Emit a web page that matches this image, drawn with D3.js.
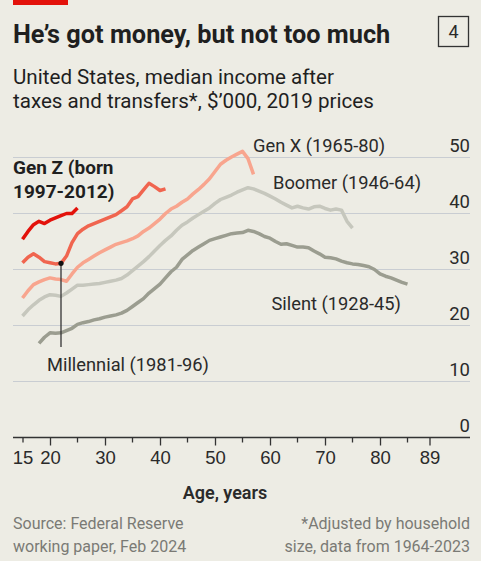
<!DOCTYPE html>
<html>
<head>
<meta charset="utf-8">
<script src="https://cdn.jsdelivr.net/npm/d3@7"></script>
<style>
  body { margin: 0; background: #edece4; }
  svg { display: block; font-family: Roboto, "Noto Sans", sans-serif; }
</style>
</head>
<body>
<script>
var width = 481;
var height = 561;

// median income after taxes and transfers, $'000 (2019 prices)
var genZAges = [15, 16, 17, 18, 19, 20, 21, 22, 23, 24, 25];
var genZValues = [35.4, 36.8, 38.0, 38.6, 38.2, 38.8, 39.2, 39.6, 40.0, 40.0, 41.0];

var millennialAges = d3.range(15, 42);
var millennialValues = [31.2, 32.2, 32.8, 32.2, 31.4, 31.2, 31.0, 31.1, 32.4, 34.8,
  36.4, 37.2, 37.8, 38.2, 38.6, 39.0, 39.4, 39.8, 40.5, 41.2,
  42.6, 43.0, 44.2, 45.4, 44.8, 44.1, 44.4];

var genXAges = d3.range(15, 58);
var genXValues = [24.9, 26.2, 27.3, 27.8, 28.2, 28.5, 28.3, 28.2, 27.9, 29.2,
  30.4, 31.2, 31.8, 32.4, 33.0, 33.5, 34.0, 34.5, 34.8, 35.1,
  35.5, 36.0, 36.8, 37.4, 38.2, 39.0, 40.0, 40.8, 41.3, 42.0,
  42.6, 43.5, 44.3, 45.2, 46.2, 47.5, 48.8, 49.5, 50.1, 50.6,
  51.1, 49.8, 47.0];

var boomerAges = d3.range(15, 76);
var boomerValues = [21.7, 22.8, 23.7, 24.5, 25.1, 25.5, 25.4, 25.2, 25.8, 26.5,
  27.2, 27.2, 27.3, 27.4, 27.5, 27.7, 27.9, 28.1, 28.4, 29.0,
  29.8, 30.6, 31.4, 32.3, 33.3, 34.3, 35.2, 36.0, 37.0, 37.9,
  38.5, 39.2, 39.8, 40.4, 41.0, 41.8, 42.5, 42.9, 43.3, 43.8,
  44.2, 44.6, 44.4, 44.0, 43.6, 43.1, 42.6, 42.0, 41.5, 41.0,
  41.3, 41.0, 40.8, 41.2, 41.3, 40.9, 40.6, 40.8, 40.6, 38.6,
  37.4];

var silentAges = d3.range(18, 86);
var silentValues = [16.8, 17.9, 18.7, 18.6, 18.7, 19.1, 19.5, 20.2, 20.5, 20.7,
  21.0, 21.2, 21.5, 21.7, 21.9, 22.2, 22.7, 23.4, 24.1, 24.8,
  25.8, 26.6, 27.4, 28.5, 29.6, 30.4, 31.8, 32.6, 33.4, 34.0,
  34.6, 35.2, 35.5, 35.8, 36.1, 36.4, 36.5, 36.6, 37.0, 36.8,
  36.4, 35.9, 35.6, 35.0, 34.5, 34.6, 34.3, 34.0, 34.0, 33.9,
  33.3, 32.8, 32.2, 32.1, 31.9, 31.5, 31.2, 31.0, 30.9, 30.7,
  30.5, 30.0, 29.2, 28.8, 28.5, 28.1, 27.7, 27.4];

var xTicks = [15, 20, 30, 40, 50, 60, 70, 80, 89];
var xMinorTicks = [25, 35, 45, 55, 65, 75, 85];
var yTicks = [0, 10, 20, 30, 40, 50];
var markerAge = 22;

var red = '#e3120b';
var ink = '#2a2a2a';

var svg = d3.select('body').append('svg')
  .attr('width', width)
  .attr('height', height);

var x = d3.scaleLinear().domain([20, 89]).range([50, 429.5]);
var y = d3.scaleLinear().domain([0, 50]).range([437.5, 157.5]);
var left = 13;
var right = 470;

// header
svg.append('rect').attr('x', 13).attr('y', 0).attr('width', 55).attr('height', 5).attr('fill', red);

svg.append('text')
  .attr('x', 13).attr('y', 43)
  .attr('font-size', 25.3).attr('font-weight', 700).attr('fill', '#1f1f1f')
  .text('He\u2019s got money, but not too much');

svg.append('rect')
  .attr('x', 438.5).attr('y', 16.5).attr('width', 30).attr('height', 30)
  .attr('fill', 'none').attr('stroke', '#333').attr('stroke-width', 1.3);
svg.append('text')
  .attr('x', 453.5).attr('y', 38).attr('text-anchor', 'middle')
  .attr('font-size', 18).attr('fill', ink).text('4');

var sub = svg.append('text').attr('font-size', 20.6).attr('fill', '#1f1f1f');
sub.append('tspan').attr('x', 13).attr('y', 83.5).text('United States, median income after');
sub.append('tspan').attr('x', 13).attr('y', 107.5).text('taxes and transfers*, $\u2019000, 2019 prices');

// grid
svg.append('g').selectAll('line')
  .data(yTicks.filter(function (d) { return d > 0; }))
  .enter().append('line')
  .attr('x1', left).attr('x2', right)
  .attr('y1', function (d) { return y(d); })
  .attr('y2', function (d) { return y(d); })
  .attr('stroke', '#c9cdd2').attr('stroke-width', 1);

svg.append('g').selectAll('text')
  .data(yTicks)
  .enter().append('text')
  .attr('x', right).attr('y', function (d) { return y(d) - 6; })
  .attr('text-anchor', 'end')
  .attr('font-size', 18.5).attr('fill', ink)
  .text(function (d) { return d; });

// x axis
var xAxis = d3.axisBottom(x).tickValues(xTicks).tickSize(8).tickSizeOuter(0).tickPadding(5);
var gx = svg.append('g').attr('transform', 'translate(0,' + y(0) + ')').call(xAxis);
gx.select('.domain').remove();
gx.selectAll('line').attr('stroke', '#333').attr('stroke-width', 1.3);
gx.selectAll('text').attr('font-size', 18.5).attr('fill', ink).attr('font-family', null);
gx.select('.tick line').attr('y2', 5); // the 15 tick is short
gx.selectAll('.minor')
  .data(xMinorTicks)
  .enter().append('line')
  .attr('class', 'minor')
  .attr('x1', function (d) { return x(d); }).attr('x2', function (d) { return x(d); })
  .attr('y1', 0).attr('y2', 5)
  .attr('stroke', '#333').attr('stroke-width', 1.3);
svg.append('line')
  .attr('x1', left).attr('x2', right)
  .attr('y1', y(0)).attr('y2', y(0))
  .attr('stroke', '#333').attr('stroke-width', 1.5);

svg.append('text')
  .attr('x', 225).attr('y', 499).attr('text-anchor', 'middle')
  .attr('font-size', 18).attr('font-weight', 600).attr('fill', ink)
  .text('Age, years');

// lines
var line = d3.line()
  .x(function (d) { return x(d[0]); })
  .y(function (d) { return y(d[1]); });

var series = [
  { ages: silentAges, values: silentValues, color: '#9b9d90' },
  { ages: boomerAges, values: boomerValues, color: '#c6c7bd' },
  { ages: genXAges, values: genXValues, color: '#f8a58e' },
  { ages: millennialAges, values: millennialValues, color: '#f0654f' },
  { ages: genZAges, values: genZValues, color: red }
];

svg.append('g').selectAll('path')
  .data(series)
  .enter().append('path')
  .attr('d', function (s) { return line(d3.zip(s.ages, s.values)); })
  .attr('fill', 'none')
  .attr('stroke', function (s) { return s.color; })
  .attr('stroke-width', 3.5)
  .attr('stroke-linejoin', 'round');

// millennial annotation
var markerValue = millennialValues[millennialAges.indexOf(markerAge)];
svg.append('line')
  .attr('x1', x(markerAge)).attr('x2', x(markerAge))
  .attr('y1', y(markerValue)).attr('y2', 347)
  .attr('stroke', '#333').attr('stroke-width', 1.3);
svg.append('circle')
  .attr('cx', x(markerAge)).attr('cy', y(markerValue)).attr('r', 2.6)
  .attr('fill', '#111');

// series labels
var labels = [
  { text: 'Gen X (1965-80)', x: 253, y: 152 },
  { text: 'Boomer (1946-64)', x: 273, y: 188.5 },
  { text: 'Silent (1928-45)', x: 271.5, y: 309.5 },
  { text: 'Millennial (1981-96)', x: 47, y: 371 }
];
svg.append('g').selectAll('text')
  .data(labels)
  .enter().append('text')
  .attr('x', function (d) { return d.x; })
  .attr('y', function (d) { return d.y; })
  .attr('font-size', 18.3).attr('fill', ink)
  .text(function (d) { return d.text; });

var gz = svg.append('text').attr('font-size', 19).attr('font-weight', 700).attr('fill', '#1f1f1f');
gz.append('tspan').attr('x', 13).attr('y', 174).text('Gen Z (born');
gz.append('tspan').attr('x', 13).attr('y', 198).text('1997-2012)');

// footer
var src = svg.append('text').attr('font-size', 16).attr('fill', '#7a7a75');
src.append('tspan').attr('x', 13).attr('y', 529).text('Source: Federal Reserve');
src.append('tspan').attr('x', 13).attr('y', 552).text('working paper, Feb 2024');

var note = svg.append('text').attr('font-size', 16).attr('fill', '#7a7a75').attr('text-anchor', 'end');
note.append('tspan').attr('x', right).attr('y', 529).text('*Adjusted by household');
note.append('tspan').attr('x', right).attr('y', 552).text('size, data from 1964-2023');
</script>
</body>
</html>
